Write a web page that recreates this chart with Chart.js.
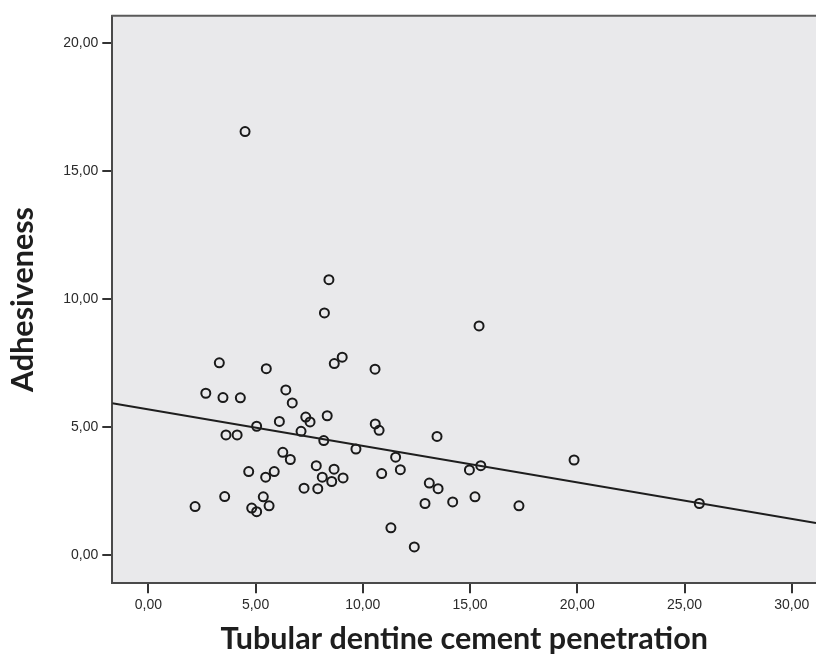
<!DOCTYPE html>
<html>
<head>
<meta charset="utf-8">
<script src="https://cdn.jsdelivr.net/npm/chart.js@4"></script>
<style>
  html, body { margin: 0; padding: 0; background: #fff; }
  #wrap { width: 816px; height: 664px; }
</style>
</head>
<body>
<div id="wrap"><canvas id="chart" width="816" height="664"></canvas></div>
<script>
// values
const penetration = [2.18, 2.68, 3.31, 3.48, 3.56, 3.62, 4.14, 4.29, 4.51, 4.68,
  4.82, 5.05, 5.05, 5.36, 5.47, 5.50, 5.63, 5.87, 6.11, 6.27,
  6.41, 6.62, 6.71, 7.12, 7.26, 7.34, 7.54, 7.83, 7.90, 8.11,
  8.18, 8.21, 8.34, 8.42, 8.55, 8.66, 8.67, 9.04, 9.08, 9.68,
  10.57, 10.58, 10.76, 10.88, 11.31, 11.53, 11.75, 12.40, 12.90, 13.10,
  13.46, 13.51, 14.19, 14.97, 15.23, 15.42, 15.50, 17.28, 19.85, 25.69]
const adhesiveness = [1.89, 6.32, 7.51, 6.15, 2.28, 4.69, 4.69, 6.14, 16.55, 3.26,
  1.83, 1.69, 5.03, 2.27, 3.04, 7.28, 1.92, 3.26, 5.22, 4.01,
  6.45, 3.73, 5.94, 4.83, 2.61, 5.39, 5.20, 3.49, 2.59, 3.04,
  4.47, 9.46, 5.44, 10.76, 2.87, 3.35, 7.48, 7.73, 3.01, 4.14,
  7.26, 5.12, 4.87, 3.18, 1.06, 3.82, 3.33, 0.31, 2.01, 2.81,
  4.63, 2.59, 2.07, 3.32, 2.27, 8.95, 3.49, 1.92, 3.71, 2.01]

// fit line end points (x, y) as drawn
const fitX = [-1.68, 31.13]
const fitY = [5.93, 1.25]

const xTickValues = [0, 5, 10, 15, 20, 25, 30]
const xTickLabels = ['0,00', '5,00', '10,00', '15,00', '20,00', '25,00', '30,00']
const yTickValues = [0, 5, 10, 15, 20]
const yTickLabels = ['0,00', '5,00', '10,00', '15,00', '20,00']

const points = penetration.map((x, i) => ({ x: x, y: adhesiveness[i] }))
const fitLine = fitX.map((x, i) => ({ x: x, y: fitY[i] }))

const plotBackground = {
  id: 'plotBackground',
  beforeDraw(chart) {
    const { ctx, chartArea: a } = chart
    ctx.save()
    ctx.fillStyle = '#e9e9eb'
    ctx.fillRect(a.left, a.top, a.right - a.left, a.bottom - a.top)
    ctx.restore()
  },
  afterDraw(chart) {
    const { ctx, chartArea: a } = chart
    ctx.save()
    ctx.strokeStyle = '#5a5a5a'
    ctx.lineWidth = 2
    ctx.beginPath()
    ctx.moveTo(a.left - 1, a.top)
    ctx.lineTo(a.right, a.top)
    ctx.stroke()
    ctx.restore()
  }
}

const tickFont = { family: '"Liberation Sans", Arial, sans-serif', size: 14 }
const titleFont = { family: 'Lato, "Open Sans", sans-serif', size: 30.5, weight: 'bold' }

new Chart(document.getElementById('chart'), {
  type: 'scatter',
  data: {
    datasets: [{
      type: 'line',
      data: fitLine,
      borderColor: '#1e1e1e',
      borderWidth: 2,
      pointRadius: 0,
      fill: false
    }, {
      data: points,
      pointStyle: 'circle',
      pointRadius: 4.5,
      pointBorderWidth: 2,
      borderColor: '#1a1a1a',
      backgroundColor: 'rgba(0,0,0,0)'
    }]
  },
  options: {
    responsive: false,
    animation: false,
    layout: { autoPadding: false, padding: { top: 15.7, right: 0, bottom: 0, left: 0 } },
    plugins: { legend: { display: false }, tooltip: { enabled: false } },
    scales: {
      x: {
        type: 'linear',
        min: -1.68,
        max: 31.13,
        afterBuildTicks: s => { s.ticks = xTickValues.map(v => ({ value: v })) },
        afterFit: s => { s.height = 80.7; s.paddingLeft = 0; s.paddingRight = 0 },
        ticks: {
          font: tickFont,
          color: '#2a2a2a',
          padding: 3,
          maxRotation: 0,
          autoSkip: false,
          callback: (v) => xTickLabels[xTickValues.indexOf(v)]
        },
        grid: { drawOnChartArea: false, drawTicks: true, tickLength: 10, color: '#333', lineWidth: 2 },
        border: { display: true, color: '#4a4a4a', width: 2 },
        title: {
          display: true,
          text: 'Tubular dentine cement penetration',
          font: titleFont,
          color: '#1e1e1e',
          padding: { top: 0, bottom: 7 }
        }
      },
      y: {
        type: 'linear',
        min: -1.11,
        max: 21.08,
        afterBuildTicks: s => { s.ticks = yTickValues.map(v => ({ value: v })) },
        afterFit: s => { s.width = 112.3; s.paddingTop = 0; s.paddingBottom = 0 },
        ticks: {
          font: tickFont,
          color: '#2a2a2a',
          padding: 4,
          autoSkip: false,
          callback: (v) => yTickLabels[yTickValues.indexOf(v)]
        },
        grid: { drawOnChartArea: false, drawTicks: true, tickLength: 10, color: '#333', lineWidth: 2 },
        border: { display: true, color: '#4a4a4a', width: 2 },
        title: {
          display: true,
          text: 'Adhesiveness',
          font: titleFont,
          color: '#1e1e1e',
          padding: { top: 5, bottom: 0 }
        }
      }
    }
  },
  plugins: [plotBackground]
})
</script>
</body>
</html>
